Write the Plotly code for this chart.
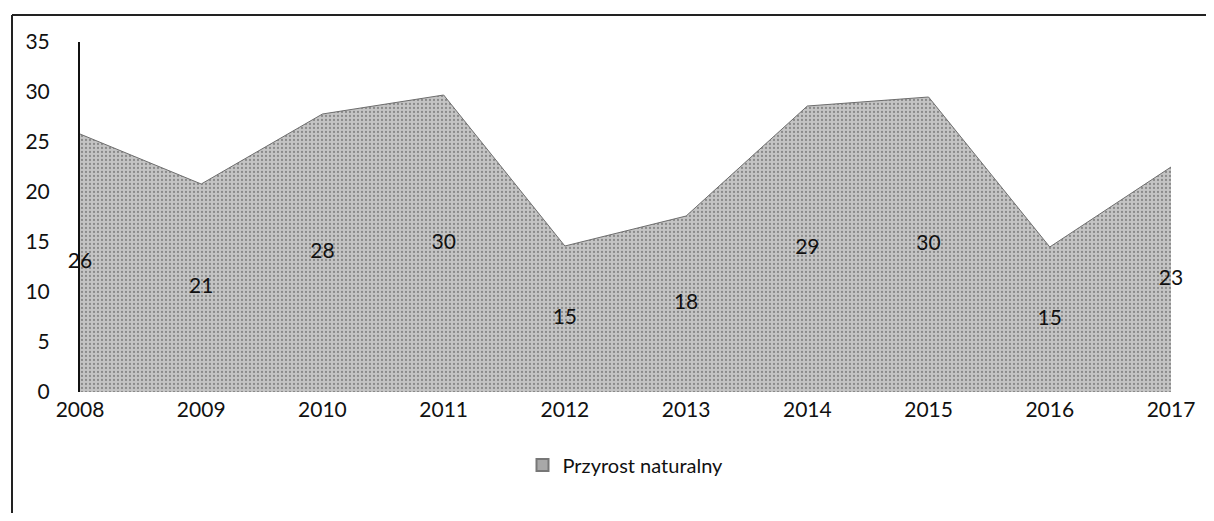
import plotly.graph_objects as go

years = [2008, 2009, 2010, 2011, 2012, 2013, 2014, 2015, 2016, 2017]
values = [25.8, 20.8, 27.8, 29.7, 14.6, 17.6, 28.6, 29.5, 14.5, 22.5]
series_name = "Przyrost naturalny"
y_ticks = [0, 5, 10, 15, 20, 25, 30, 35]

labels = [str(int(v + 0.5)) for v in values]
label_y = [v / 2 for v in values]

OFF = 8  # default body margin of the page
W, H = 1214 - 2 * OFF, 521 - 2 * OFF
L, T = 80 - OFF, 42 - OFF
R = W - (1171 - OFF)
B = H - (392 - OFF)
pw, ph = W - L - R, H - T - B

def px_to_paper_x(px):
    return (px - OFF - L) / pw

def px_to_paper_y(py):
    return (H - B - (py - OFF)) / ph

FONT = "Lato, Open Sans, sans-serif"

fig = go.Figure()
fig.add_trace(go.Scatter(
    x=years, y=values, mode="lines", name=series_name,
    fill="tozeroy",
    fillcolor="#b8b8b8",
    fillpattern=dict(shape=".", bgcolor="#c4c4c4", fgcolor="#505050",
                     size=4, solidity=0.25, fillmode="overlay"),
    line=dict(color="#6e6e6e", width=1),
    showlegend=False, cliponaxis=False,
))
fig.add_trace(go.Scatter(
    x=years, y=label_y, mode="text", text=labels,
    textfont=dict(family=FONT, size=21, color="#111"),
    textposition="middle center", showlegend=False, hoverinfo="skip",
    cliponaxis=False,
))
# legend entry (small square swatch)
fig.add_trace(go.Scatter(
    x=[None], y=[None], mode="markers", name=series_name,
    marker=dict(symbol="square", size=9, color="#a8a8a8",
                line=dict(color="#777", width=1)),
    showlegend=True,
))

fig.update_layout(
    width=W, height=H,
    margin=dict(l=L, r=R, t=T, b=B, autoexpand=False),
    paper_bgcolor="white", plot_bgcolor="white",
    font=dict(family=FONT, size=21, color="#111"),
    xaxis=dict(range=[2008, 2017], tickmode="array", tickvals=years,
               ticktext=[str(y) for y in years], showgrid=False, zeroline=False,
               showline=False, ticks="", ticklabelstandoff=3, automargin=False),
    yaxis=dict(range=[0, 35], tickmode="array", tickvals=y_ticks,
               showgrid=False, zeroline=False, showline=True,
               linecolor="#111", linewidth=2, ticks="", ticklabelstandoff=24,
               automargin=False),
    legend=dict(orientation="h", x=0.5, xanchor="center",
                y=px_to_paper_y(465), yanchor="middle",
                font=dict(size=20), itemwidth=30, itemsizing="constant"),
    shapes=[
        dict(type="line", xref="paper", yref="paper",
             x0=px_to_paper_x(12), x1=px_to_paper_x(1240),
             y0=px_to_paper_y(15), y1=px_to_paper_y(15),
             line=dict(color="#222", width=2)),
        dict(type="line", xref="paper", yref="paper",
             x0=px_to_paper_x(12), x1=px_to_paper_x(12),
             y0=px_to_paper_y(15), y1=px_to_paper_y(540),
             line=dict(color="#222", width=2)),
    ],
)

fig.write_html("out.html")
